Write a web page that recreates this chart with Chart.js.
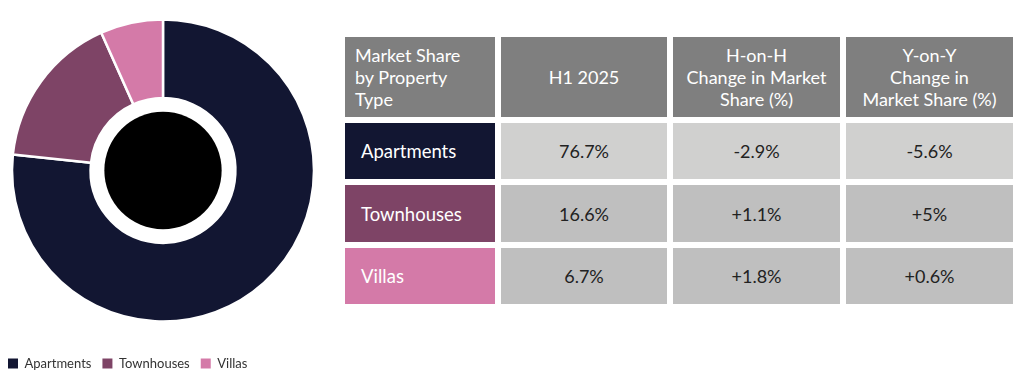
<!DOCTYPE html>
<html><head><meta charset="utf-8">
<script src="https://cdn.jsdelivr.net/npm/chart.js@4.4.1/dist/chart.umd.min.js"></script>
<style>
html,body{margin:0;padding:0;width:1024px;height:380px;overflow:hidden;background:#fff;font-family:Lato,"Open Sans",sans-serif;}
#chartWrap{position:absolute;left:-3px;top:-12px;width:332px;height:392px;}
#grid{position:absolute;left:345px;top:37px;display:grid;grid-template-columns:150px 166px 167px 167px;grid-template-rows:80px 56px 57px 56px;column-gap:6px;row-gap:6px;}
.cell{display:flex;align-items:center;justify-content:center;text-align:center;box-sizing:border-box;}
.hd{background:#7f7f7f;color:#fff;font-size:18px;line-height:22px;}
.hd.first{justify-content:flex-start;text-align:left;padding-left:10px;}
.lab{color:#fff;font-size:18.5px;justify-content:flex-start;padding-left:16px;}
.val{color:#222;font-size:18px;}
</style>
</head><body>
<div id="chartWrap"><canvas id="c"></canvas></div>
<div id="grid"></div>
<script>
const categories = ['Apartments', 'Townhouses', 'Villas'];
const shareH1_2025 = [76.7, 16.6, 6.7];
const hohChange = ['-2.9%', '+1.1%', '+1.8%'];
const yoyChange = ['-5.6%', '+5%', '+0.6%'];
const headerLabels = ['Market Share<br>by Property<br>Type', 'H1 2025', 'H-on-H<br>Change in Market<br>Share (%)', 'Y-on-Y<br>Change in<br>Market Share (%)'];
const segmentColors = ['#121632', '#7e4466', '#d47aa8'];
const valueRowColors = ['#d0d0cf', '#bfbfbf', '#bfbfbf'];

// Table built from the arrays
const grid = document.getElementById('grid');
headerLabels.forEach((h, i) => {
  const d = document.createElement('div');
  d.className = 'cell hd' + (i === 0 ? ' first' : '');
  d.innerHTML = h;
  grid.appendChild(d);
});
categories.forEach((cat, r) => {
  const lab = document.createElement('div');
  lab.className = 'cell lab';
  lab.style.background = segmentColors[r];
  lab.textContent = cat;
  grid.appendChild(lab);
  [shareH1_2025[r].toFixed(1) + '%', hohChange[r], yoyChange[r]].forEach(v => {
    const d = document.createElement('div');
    d.className = 'cell val';
    d.style.background = valueRowColors[r];
    d.textContent = v;
    grid.appendChild(d);
  });
});

const centerDisc = {
  id: 'centerDisc',
  afterDatasetsDraw(chart) {
    const arc = chart.getDatasetMeta(0).data[0];
    if (!arc) return;
    const ctx = chart.ctx;
    ctx.save();
    ctx.beginPath();
    ctx.arc(arc.x, arc.y, arc.innerRadius * 0.81, 0, Math.PI * 2);
    ctx.fillStyle = '#000';
    ctx.fill();
    ctx.restore();
  }
};

new Chart(document.getElementById('c'), {
  type: 'doughnut',
  data: {
    labels: categories,
    datasets: [{
      data: shareH1_2025,
      backgroundColor: segmentColors,
      borderColor: '#fff',
      borderWidth: 2.5
    }]
  },
  options: {
    responsive: true,
    maintainAspectRatio: false,
    animation: false,
    radius: 151,
    cutout: 79,
    layout: { padding: { top: 7, bottom: 0, left: 0, right: 0 } },
    plugins: {
      tooltip: { enabled: false },
      legend: {
        position: 'bottom',
        align: 'start',
        labels: {
          boxWidth: 10, boxHeight: 10, padding: 11,
          color: '#333',
          font: { family: 'Lato', size: 13 },
          generateLabels(chart) {
            const items = Chart.overrides.doughnut.plugins.legend.labels.generateLabels(chart);
            items.forEach(it => { it.lineWidth = 0; it.strokeStyle = it.fillStyle; });
            return items;
          }
        }
      }
    }
  },
  plugins: [centerDisc]
});
</script>
</body></html>
